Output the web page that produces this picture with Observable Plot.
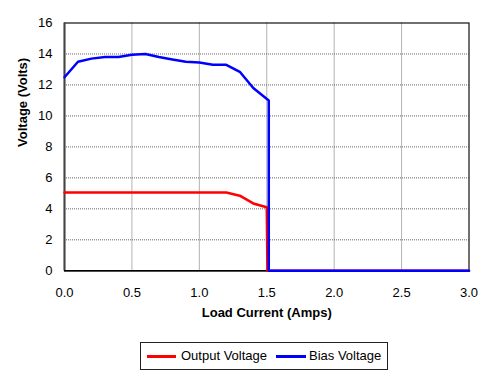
<!DOCTYPE html>
<html>
<head>
<meta charset="utf-8">
<script src="https://cdn.jsdelivr.net/npm/d3@7"></script>
<script src="https://cdn.jsdelivr.net/npm/@observablehq/plot@0.6"></script>
<style>
  body { margin: 0; background: #fff; font-family: "Liberation Sans", Arial, sans-serif; }
  #chart { position: relative; width: 500px; height: 383px; }
  .legend { position: absolute; left: 140px; top: 342px; width: 246px; height: 26px;
            border: 1px solid #222; font-size: 13px; color: #000; }
  .legend .sw { position: absolute; top: 12px; height: 2.5px; }
  .legend .lab { position: absolute; top: 5px; line-height: 15px; white-space: nowrap; }
</style>
</head>
<body>
<div id="chart"></div>
<script>
// Data
const outputCurrent = [0,0.1,0.2,0.3,0.4,0.5,0.6,0.7,0.8,0.9,1.0,1.1,1.2,1.3,1.4,1.5,1.505,3.0];
const outputVoltage = [5.05,5.05,5.05,5.05,5.05,5.05,5.05,5.05,5.05,5.05,5.05,5.05,5.05,4.85,4.35,4.1,0,0];
const biasCurrent = [0,0.1,0.2,0.3,0.4,0.5,0.6,0.7,0.8,0.9,1.0,1.1,1.2,1.3,1.4,1.515,1.515,3.0];
const biasVoltage = [12.5,13.5,13.7,13.8,13.8,13.95,14.0,13.8,13.65,13.5,13.45,13.3,13.3,12.85,11.8,11.0,0,0];
const xTicks = [0,0.5,1.0,1.5,2.0,2.5,3.0];
const yTicks = [0,2,4,6,8,10,12,14,16];
const seriesNames = ["Output Voltage", "Bias Voltage"];
const seriesColors = ["#ff0000", "#0000ff"];
const xTitle = "Load Current (Amps)";
const yTitle = "Voltage (Volts)";

const outputData = outputCurrent.map((x, i) => ({x, y: outputVoltage[i]}));
const biasData = biasCurrent.map((x, i) => ({x, y: biasVoltage[i]}));

const plot = Plot.plot({
  width: 500,
  height: 335,
  marginLeft: 64,
  marginRight: 31.5,
  marginTop: 22.5,
  marginBottom: 64.7,
  style: { fontFamily: '"Liberation Sans", Arial, sans-serif', fontSize: "13px", color: "#000", background: "#fff" },
  x: { domain: [0, 3], ticks: xTicks, tickFormat: d3.format(".1f"), tickSize: 0, tickPadding: 17, label: null },
  y: { domain: [0, 16], ticks: yTicks, tickFormat: d3.format("d"), tickSize: 0, tickPadding: 12, label: null },
  marks: [
    Plot.ruleY(yTicks.filter(d => d > 0 && d < 16), { stroke: "#666", strokeDasharray: "1,1", strokeWidth: 1 }),
    Plot.ruleX(xTicks.filter(d => d > 0 && d < 3), { stroke: "#666", strokeDasharray: "1,1", strokeWidth: 1 }),
    Plot.frame({ stroke: "#111", strokeWidth: 1.2 }),
    Plot.ruleX([0], { stroke: "#444", strokeWidth: 2 }),
    Plot.ruleY([0], { stroke: "#000", strokeWidth: 1.5 }),
    Plot.line(outputData, { x: "x", y: "y", stroke: seriesColors[0], strokeWidth: 2.5, strokeLinejoin: "round" }),
    Plot.line(biasData, { x: "x", y: "y", stroke: seriesColors[1], strokeWidth: 2.5, strokeLinejoin: "round" }),
    Plot.text([xTitle], { frameAnchor: "bottom", dy: 46, fontWeight: "bold", fontSize: 13, fill: "#000" }),
    Plot.text([yTitle], { frameAnchor: "left", dx: -42, rotate: -90, fontWeight: "bold", fontSize: 13, fill: "#000" })
  ]
});

const chart = document.getElementById("chart");
chart.appendChild(plot);

const legend = document.createElement("div");
legend.className = "legend";
const layout = [{sw: 6, swW: 29, lab: 40}, {sw: 135, swW: 30, lab: 168}];
seriesNames.forEach((name, i) => {
  const sw = document.createElement("span");
  sw.className = "sw";
  sw.style.left = layout[i].sw + "px";
  sw.style.width = layout[i].swW + "px";
  sw.style.background = seriesColors[i];
  const lab = document.createElement("span");
  lab.className = "lab";
  lab.style.left = layout[i].lab + "px";
  lab.textContent = name;
  legend.appendChild(sw);
  legend.appendChild(lab);
});
chart.appendChild(legend);
</script>
</body>
</html>
